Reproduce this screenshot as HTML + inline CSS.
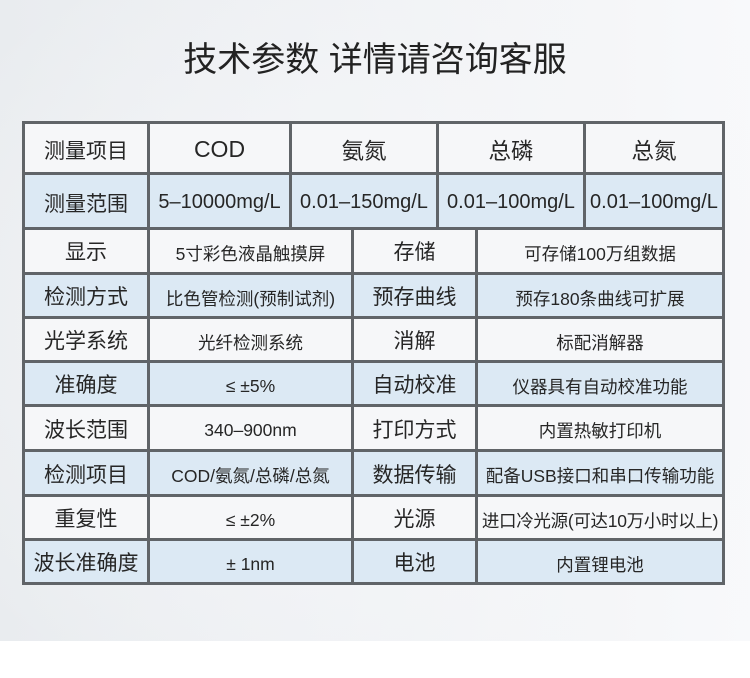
<!DOCTYPE html>
<html><head><meta charset="utf-8">
<style>
*{margin:0;padding:0;box-sizing:border-box}
html,body{width:750px;height:678px;overflow:hidden;background:#fff}
body{position:relative;font-family:"Liberation Sans","Noto Sans CJK SC",sans-serif;color:#262626}
#bg{position:absolute;left:0;top:0;width:750px;height:641px;
background:radial-gradient(ellipse 520px 420px at 380px 330px,#f6f7f9 0%,rgba(246,247,249,0) 100%),linear-gradient(to right,#e9ecef 0%,#eff1f4 45%,#f5f6f8 80%,#f8f9fb 100%)}
#title{position:absolute;left:0;width:750px;top:38px;text-align:center;font-size:34px;line-height:44px;color:#222;white-space:nowrap}
.r{position:absolute;left:23px;width:701px}
.w{background:#f6f7f9}
.b{background:#dce9f4}
.h{position:absolute;left:22px;width:703px;height:3px;background:#606468}
.v{position:absolute;width:3px;background:#606468}
.c{position:absolute;display:flex;align-items:center;justify-content:center;white-space:nowrap;text-align:center}
.l{font-size:21px}
.s{font-size:17.5px}
.n{font-size:20px}
.hd{font-size:22.5px}
</style></head><body>
<div id="bg"></div>
<div id="title">技术参数 详情请咨询客服</div>

<div class="r w" style="top:122px;height:51px"></div>
<div class="r b" style="top:173px;height:55px"></div>
<div class="r w" style="top:228px;height:45px"></div>
<div class="r b" style="top:273px;height:44px"></div>
<div class="r w" style="top:317px;height:44px"></div>
<div class="r b" style="top:361px;height:44px"></div>
<div class="r w" style="top:405px;height:45px"></div>
<div class="r b" style="top:450px;height:45px"></div>
<div class="r w" style="top:495px;height:44px"></div>
<div class="r b" style="top:539px;height:44px"></div>

<div class="h" style="top:121px"></div>
<div class="h" style="top:172px"></div>
<div class="h" style="top:227px"></div>
<div class="h" style="top:272px"></div>
<div class="h" style="top:316px"></div>
<div class="h" style="top:360px"></div>
<div class="h" style="top:404px"></div>
<div class="h" style="top:449px"></div>
<div class="h" style="top:494px"></div>
<div class="h" style="top:538px"></div>
<div class="h" style="top:582px"></div>

<div class="v" style="left:22px;top:121px;height:464px"></div>
<div class="v" style="left:722px;top:121px;height:464px"></div>
<div class="v" style="left:147px;top:121px;height:464px"></div>
<div class="v" style="left:289px;top:121px;height:108px"></div>
<div class="v" style="left:436px;top:121px;height:108px"></div>
<div class="v" style="left:583px;top:121px;height:108px"></div>
<div class="v" style="left:351px;top:227px;height:358px"></div>
<div class="v" style="left:475px;top:227px;height:358px"></div>

<div class="c l" style="left:25px;width:122px;top:124px;height:51px">测量项目</div>
<div class="c" style="left:150px;width:139px;top:124px;height:51px;font-size:23px">COD</div>
<div class="c hd" style="left:292px;width:144px;top:124px;height:51px">氨氮</div>
<div class="c hd" style="left:439px;width:144px;top:124px;height:51px">总磷</div>
<div class="c hd" style="left:586px;width:136px;top:124px;height:51px">总氮</div>

<div class="c l" style="left:25px;width:122px;top:175px;height:55px">测量范围</div>
<div class="c n" style="left:150px;width:139px;top:175px;height:55px">5–10000mg/L</div>
<div class="c n" style="left:292px;width:144px;top:175px;height:55px">0.01–150mg/L</div>
<div class="c n" style="left:439px;width:144px;top:175px;height:55px">0.01–100mg/L</div>
<div class="c n" style="left:586px;width:136px;top:175px;height:55px">0.01–100mg/L</div>

<div class="c l" style="left:25px;width:122px;top:229px;height:44px">显示</div>
<div class="c s" style="left:150px;width:201px;top:231px;height:44px">5寸彩色液晶触摸屏</div>
<div class="c l" style="left:354px;width:121px;top:229px;height:44px">存储</div>
<div class="c s" style="left:478px;width:244px;top:231px;height:44px">可存储100万组数据</div>

<div class="c l" style="left:25px;width:122px;top:274px;height:44px">检测方式</div>
<div class="c s" style="left:150px;width:201px;top:276px;height:44px">比色管检测(预制试剂)</div>
<div class="c l" style="left:354px;width:121px;top:274px;height:44px">预存曲线</div>
<div class="c s" style="left:478px;width:244px;top:276px;height:44px">预存180条曲线可扩展</div>

<div class="c l" style="left:25px;width:122px;top:318px;height:44px">光学系统</div>
<div class="c s" style="left:150px;width:201px;top:320px;height:44px">光纤检测系统</div>
<div class="c l" style="left:354px;width:121px;top:318px;height:44px">消解</div>
<div class="c s" style="left:478px;width:244px;top:320px;height:44px">标配消解器</div>

<div class="c l" style="left:25px;width:122px;top:362px;height:44px">准确度</div>
<div class="c s" style="left:150px;width:201px;top:364px;height:44px">≤ ±5%</div>
<div class="c l" style="left:354px;width:121px;top:362px;height:44px">自动校准</div>
<div class="c s" style="left:478px;width:244px;top:364px;height:44px">仪器具有自动校准功能</div>

<div class="c l" style="left:25px;width:122px;top:406px;height:45px">波长范围</div>
<div class="c s" style="left:150px;width:201px;top:408px;height:45px">340–900nm</div>
<div class="c l" style="left:354px;width:121px;top:406px;height:45px">打印方式</div>
<div class="c s" style="left:478px;width:244px;top:408px;height:45px">内置热敏打印机</div>

<div class="c l" style="left:25px;width:122px;top:451px;height:45px">检测项目</div>
<div class="c s" style="left:150px;width:201px;top:453px;height:45px">COD/氨氮/总磷/总氮</div>
<div class="c l" style="left:354px;width:121px;top:451px;height:45px">数据传输</div>
<div class="c s" style="left:478px;width:244px;top:453px;height:45px">配备USB接口和串口传输功能</div>

<div class="c l" style="left:25px;width:122px;top:496px;height:44px">重复性</div>
<div class="c s" style="left:150px;width:201px;top:498px;height:44px">≤ ±2%</div>
<div class="c l" style="left:354px;width:121px;top:496px;height:44px">光源</div>
<div class="c s" style="left:478px;width:244px;top:498px;height:44px;letter-spacing:-0.3px">进口冷光源(可达10万小时以上)</div>

<div class="c l" style="left:25px;width:122px;top:540px;height:44px">波长准确度</div>
<div class="c s" style="left:150px;width:201px;top:542px;height:44px">± 1nm</div>
<div class="c l" style="left:354px;width:121px;top:540px;height:44px">电池</div>
<div class="c s" style="left:478px;width:244px;top:542px;height:44px">内置锂电池</div>
</body></html>
